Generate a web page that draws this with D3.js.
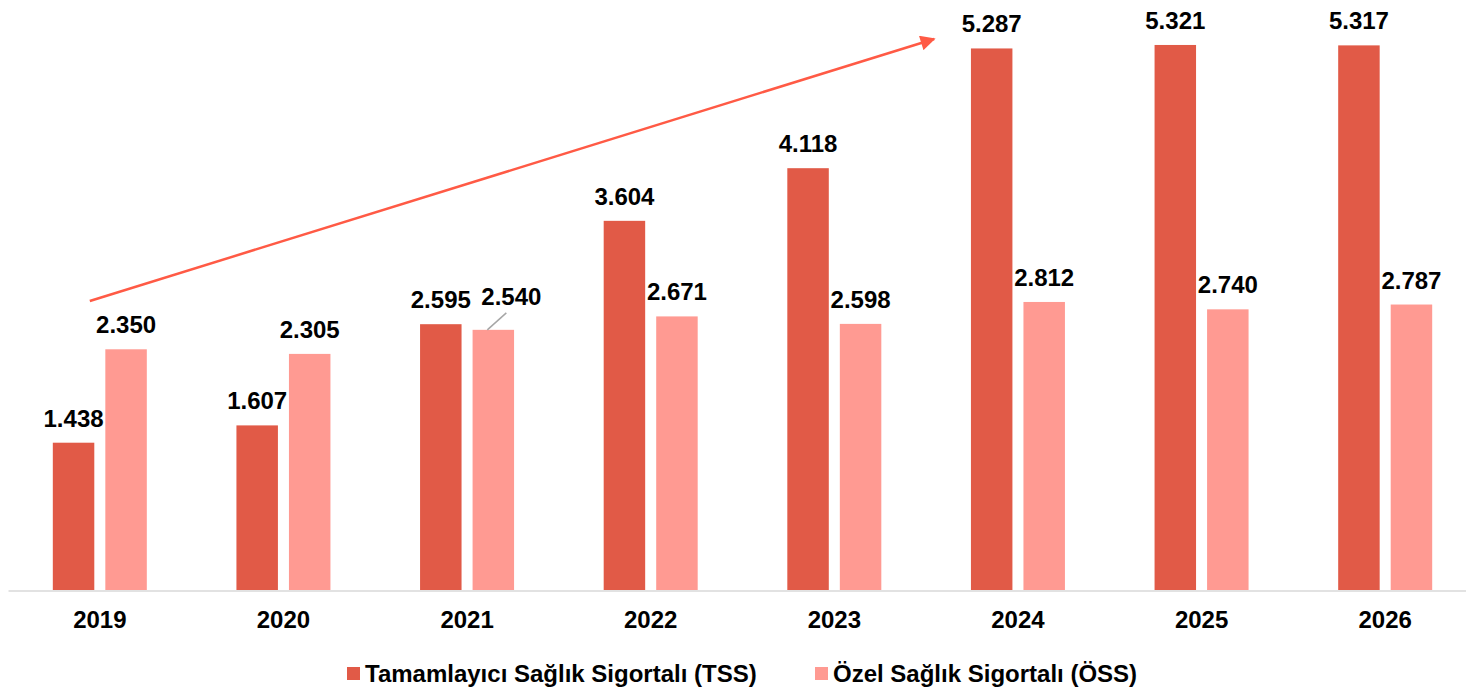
<!DOCTYPE html>
<html><head><meta charset="utf-8">
<script src="https://cdn.jsdelivr.net/npm/d3@7"></script>
<style>body{margin:0;background:#fff}svg{display:block;font-family:Arial,"Liberation Sans",sans-serif}</style>
</head><body>
<script>
const years = ["2019","2020","2021","2022","2023","2024","2025","2026"];
const tss = [1.438,1.607,2.595,3.604,4.118,5.287,5.321,5.317];
const oss = [2.350,2.305,2.540,2.671,2.598,2.812,2.740,2.787];
const seriesNames = ["Tamamlayıcı Sağlık Sigortalı (TSS)","Özel Sağlık Sigortalı (ÖSS)"];
const colors = ["#E15A47","#FF9A92"];

const W=1466,H=693;
const svg=d3.select("body").append("svg").attr("width",W).attr("height",H);
const x=d3.scaleBand().domain(years).range([8,1477]).paddingInner(0).paddingOuter(0);
const inner=d3.scaleBand().domain([0,1]).range([x.bandwidth()/2-47,x.bandwidth()/2+47]).paddingInner(0.21).paddingOuter(0);
const y=d3.scaleLinear().domain([0,5.76]).range([590,0]);
const fmt=d3.format(".3f");

const series=[tss,oss];
series.forEach((vals,si)=>{
  const g=svg.append("g");
  g.selectAll("rect").data(vals).join("rect")
    .attr("x",(d,i)=>x(years[i])+inner(si)).attr("width",inner.bandwidth())
    .attr("y",d=>y(d)).attr("height",d=>y(0)-y(d)).attr("fill",colors[si]);
});
// axis
const ax=svg.append("g").attr("transform","translate(0,590.5)").call(d3.axisBottom(x).tickSize(0).tickPadding(20));
ax.select(".domain").attr("stroke","#d9d9d9").attr("stroke-width",1.5);
ax.selectAll("text").attr("font-size",24).attr("font-weight","bold").attr("fill","#000").attr("font-family","Arial, Liberation Sans, sans-serif");

// labels
series.forEach((vals,si)=>{
  svg.append("g").selectAll("text").data(vals).join("text")
    .attr("x",(d,i)=>x(years[i])+inner(si)+inner.bandwidth()/2+(si===1&&i===2?18:0))
    .attr("y",(d,i)=>y(d)-16-(si===1&&i===2?9:0))
    .attr("text-anchor","middle").attr("font-size",24).attr("font-weight","bold").attr("fill","#000")
    .text(d=>fmt(d));
});
// leader line for 2021 ÖSS
{
  const i=2, bx=x(years[i])+inner(1)+inner.bandwidth()/2;
  svg.append("line").attr("x1",bx-6).attr("y1",y(oss[i])).attr("x2",bx+13).attr("y2",y(oss[i])-17)
    .attr("stroke","#a6a6a6").attr("stroke-width",1.5);
}
// trend arrow
const defs=svg.append("defs");
defs.append("marker").attr("id","ah").attr("viewBox","0 0 10 10").attr("refX",9).attr("refY",5)
  .attr("markerWidth",7).attr("markerHeight",6).attr("markerUnits","strokeWidth").attr("orient","auto")
  .append("path").attr("d","M0,0L10,5L0,10z").attr("fill","#FF5A45");
const ax0=x(years[0])+x.bandwidth()/2-10, ax1=x(years[5])+8;
svg.append("line").attr("x1",ax0).attr("y1",301).attr("x2",ax1).attr("y2",39)
  .attr("stroke","#FF5A45").attr("stroke-width",2.5).attr("marker-end","url(#ah)");

// legend
const leg=svg.append("g");
const lx=[347,815];
seriesNames.forEach((n,i)=>{
  leg.append("rect").attr("x",lx[i]).attr("y",667).attr("width",13).attr("height",13).attr("fill",colors[i]);
  leg.append("text").attr("x",lx[i]+18).attr("y",682).attr("font-size",24).attr("font-weight","bold").attr("fill","#000").text(n);
});
</script>
</body></html>
